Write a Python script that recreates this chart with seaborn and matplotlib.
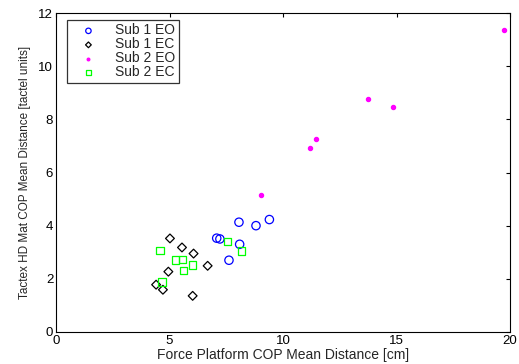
import matplotlib
matplotlib.use('Agg')
import matplotlib.pyplot as plt
import numpy as np
import pandas as pd
import seaborn as sns

# Sub 1 eyes open
s1eo_x = [7.08, 7.22, 8.06, 8.81, 9.40, 8.09, 7.62]
s1eo_y = [3.53, 3.50, 4.13, 4.00, 4.23, 3.30, 2.70]
# Sub 1 eyes closed
s1ec_x = [5.02, 5.55, 6.06, 6.68, 4.95, 4.41, 4.71, 6.02]
s1ec_y = [3.52, 3.18, 2.95, 2.49, 2.27, 1.78, 1.59, 1.36]
# Sub 2 eyes open
s2eo_x = [9.03, 11.20, 11.44, 13.74, 14.86, 19.74]
s2eo_y = [5.15, 6.92, 7.26, 8.78, 8.47, 11.37]
# Sub 2 eyes closed
s2ec_x = [4.58, 5.27, 5.58, 6.02, 5.61, 4.67, 7.55, 8.18]
s2ec_y = [3.07, 2.70, 2.73, 2.53, 2.32, 1.87, 3.40, 3.05]

sns.set_theme(style='white')
plt.rcParams['font.family'] = ['Liberation Sans', 'DejaVu Sans']
plt.rcParams['font.size'] = 9

groups = [
    ('Sub 1 EO', s1eo_x, s1eo_y, 'o', '#0000ff', False, 36),
    ('Sub 1 EC', s1ec_x, s1ec_y, 'D', 'black', False, 20),
    ('Sub 2 EO', s2eo_x, s2eo_y, 'o', '#ff00ff', True, 9),
    ('Sub 2 EC', s2ec_x, s2ec_y, 's', '#00ff00', False, 30),
]

fig = plt.figure(figsize=(5.19, 3.64), dpi=100)
ax = fig.add_axes([56/519, 1-332/364, 454/519, 319/364])

for name, xs, ys, mk, col, filled, size in groups:
    df = pd.DataFrame({'x': xs, 'y': ys})
    sns.scatterplot(data=df, x='x', y='y', ax=ax, marker=mk, s=size,
                    facecolor=col if filled else 'none', edgecolor=col,
                    linewidth=0.9, label=name, legend=False)

ax.set_xlim(0, 20)
ax.set_ylim(0, 12)
ax.set_xticks([0, 5, 10, 15, 20])
ax.set_yticks([0, 2, 4, 6, 8, 10, 12])
ax.tick_params(direction='in', top=True, right=True, length=3, width=0.8,
               labelsize=9.5, colors='black', pad=2)
for sp in ax.spines.values():
    sp.set_color('black')
    sp.set_linewidth(0.8)
ax.set_xlabel('Force Platform COP Mean Distance [cm]', fontsize=10, labelpad=1)
ax.set_ylabel('Tactex HD Mat COP Mean Distance [tactel units]', fontsize=8.5, labelpad=5)

handles, labels = ax.get_legend_handles_labels()
leg = ax.legend(handles, labels, loc='upper left', bbox_to_anchor=(0.024, 0.978),
                frameon=True, fancybox=False, edgecolor='black', fontsize=10,
                handletextpad=0.6, borderpad=0.25, labelspacing=0.0,
                handlelength=2.6, markerscale=0.65, borderaxespad=0)
leg.get_frame().set_linewidth(0.9)

fig.savefig('out.png', dpi=100)
